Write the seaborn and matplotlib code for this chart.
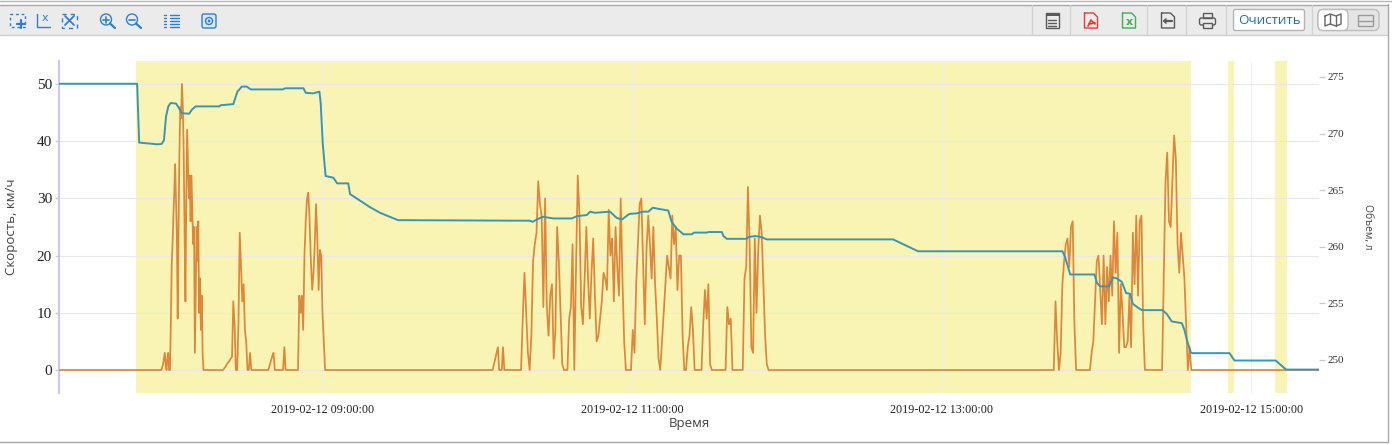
import pandas as pd
import seaborn as sns
import matplotlib
matplotlib.use('Agg')
import matplotlib.pyplot as plt
import matplotlib.dates as mdates
from matplotlib.patches import Rectangle, Circle, FancyBboxPatch

DAY = '2019-02-12 '

# --- datos: velocidad (tramos con muestreo regular, cero entre tramos) ---
speed_a = [0, 0.5, 1, 2, 3, 1, 0, 2, 3, 0, 0, 8, 18, 22, 27, 31, 36, 30, 24, 9, 25, 38, 46, 44, 50,
           46, 38, 24, 12, 30, 42, 36, 30, 34, 26, 34, 28, 22, 25, 3, 14, 25, 19, 26, 10, 16, 7, 13,
           3, 0]
speed_b = [0, 0.3, 0.6, 1, 1.3, 1.6, 2, 2.3, 12, 8, 0, 0, 8, 24, 18, 12, 15, 7, 5, 0, 0, 3, 0]
speed_c = [0, 0.8, 1.6, 2.4, 3, 0]
speed_d = [0, 4, 0]
speed_e = [0, 13, 10, 13, 7, 20, 26, 30, 31, 26, 19, 14, 17, 22, 29, 23, 14, 21, 20, 10, 5, 0]
speed_f = [0, 1, 2, 3, 4, 0, 0, 0, 4, 0]
speed_g = [0, 9, 17, 10, 3, 0, 6, 19, 22, 24, 33, 29, 27, 11, 30, 11, 6, 13, 15, 2,
           7, 25, 19, 10, 1, 0, 0, 0, 9, 11, 22, 0, 18, 34, 27, 11, 8, 16, 25, 16,
           9, 17, 23, 13, 5, 6, 9, 12, 17, 16, 14, 28, 20, 23, 12, 25, 18, 13, 30, 16,
           5, 0, 0, 0, 0, 7, 3, 15, 22,
           29, 30, 19, 8, 21, 27, 22, 16, 25, 15, 9, 2, 0, 5, 10, 15, 20, 18, 16, 27,
           22, 25, 14, 20, 20, 6, 0, 0, 4, 6, 11, 7, 0, 0, 0, 0, 0, 8, 14, 9, 15, 1,
           0, 0, 0, 0, 0, 0, 0, 0, 0, 11, 8, 9, 0, 0, 0, 0, 0, 0, 0, 16, 18, 32, 22, 4,
           3, 23, 10, 21, 27, 24, 15, 6, 1, 0]
speed_h = [0, 12, 5, 0, 3, 15, 19, 22, 23, 18, 25, 26, 8, 0, 0, 0, 0, 0, 0, 0, 0, 0,
           3, 5, 12, 19, 20, 14, 8, 20, 8, 18, 12, 20, 13, 26, 17, 24, 3, 15, 10, 4, 4,
           5, 13, 4, 24, 15, 27, 13, 26, 27, 8, 0, 0, 0, 0, 0, 0, 0, 0, 0, 0, 0,
           16, 33, 38, 26, 25, 33, 41, 37, 22, 17, 24, 20, 16, 8, 0, 4, 0]

speed_bursts = [
    ('07:57:18', 20, speed_a),
    ('08:21:12', 30, speed_b),
    ('08:38:48', 30, speed_c),
    ('08:44:30', 30, speed_d),
    ('08:50:18', 30, speed_e),
    ('10:05:49', 30, speed_f),
    ('10:16:48', 40, speed_g),
    ('13:43:26', 40, speed_h),
]

# --- datos: volumen ---
volume_times = ['07:17:36', '07:47:54', '07:48:42', '07:53:30', '07:55:30', '07:57:24', '07:58:18',
                '07:59:06', '08:00:00', '08:00:54', '08:03:00', '08:04:00', '08:05:12', '08:08:06',
                '08:09:06', '08:10:36', '08:19:48', '08:20:18', '08:25:12', '08:26:48', '08:28:30',
                '08:30:24', '08:32:00', '08:44:24', '08:45:18', '08:52:24', '08:53:18', '08:56:12',
                '08:58:36', '08:59:06', '08:59:54', '09:01:00', '09:04:00', '09:05:30', '09:09:48',
                '09:10:30', '09:18:12', '09:22:06', '09:29:06', '10:20:18', '10:21:18', '10:22:54',
                '10:25:12', '10:29:18', '10:36:30', '10:38:24', '10:42:18', '10:43:36', '10:45:30',
                '10:51:18', '10:53:54', '10:55:54', '10:58:48', '11:01:42', '11:04:12', '11:06:12',
                '11:07:54', '11:10:06', '11:13:54', '11:15:12', '11:17:12', '11:19:48', '11:23:00',
                '11:23:54', '11:28:48', '11:29:36', '11:34:42', '11:35:18', '11:36:36', '11:44:06',
                '11:45:00', '11:47:36', '11:50:12', '11:52:06', '12:41:06', '12:50:48', '13:46:48',
                '13:47:48', '13:49:48', '13:59:12', '14:00:12', '14:01:24', '14:04:54', '14:06:18',
                '14:07:54', '14:09:48', '14:11:30', '14:13:00', '14:14:06', '14:15:36', '14:17:36',
                '14:25:36', '14:27:18', '14:29:12', '14:33:06', '14:34:06', '14:35:24', '14:36:36',
                '14:37:18', '14:51:36', '14:53:30', '15:09:30', '15:13:30', '15:26:18']
volume_values = [274.4, 274.4, 269.2, 269.1, 269.05, 269.08, 269.4,
                 271.5, 272.4, 272.7, 272.65, 272.3, 271.8, 271.75,
                 272.1, 272.4, 272.4, 272.5, 272.6, 273.7, 274.15,
                 274.15, 273.9, 273.9, 274.0, 274.0, 273.6, 273.55,
                 273.7, 272.7, 269.1, 266.25, 266.1, 265.6, 265.6,
                 264.65, 263.5, 263.0, 262.35, 262.3, 262.2, 262.4,
                 262.65, 262.5, 262.5, 262.7, 262.8, 263.1, 263.0,
                 263.1, 262.55, 262.4, 262.9, 262.95, 263.1, 263.1,
                 263.45, 263.35, 263.2, 262.2, 261.6, 261.1, 261.1,
                 261.25, 261.25, 261.3, 261.3, 260.95, 260.7, 260.7,
                 260.85, 260.95, 260.85, 260.65, 260.65, 259.6, 259.6,
                 259.1, 257.55, 257.55, 256.8, 256.5, 256.5, 257.3,
                 257.2, 256.9, 255.9, 255.85, 254.95, 254.7, 254.4,
                 254.4, 254.05, 253.4, 253.25, 252.65, 251.5, 250.65,
                 250.6, 250.6, 249.95, 249.95, 249.15, 249.15]

# --- datos: zonas resaltadas y ejes ---
span_starts = ['07:47:30', '14:51:00', '15:09:18']
span_ends = ['14:36:42', '14:53:24', '15:13:54']
time_ticks = ['09:00:00', '11:00:00', '13:00:00', '15:00:00']
speed_ticks = [0, 10, 20, 30, 40, 50]
volume_ticks = [250, 255, 260, 265, 270, 275]

W, H = 1392, 445


def ts(t):
    return pd.Timestamp(DAY + t)


def speed_frame():
    rows = [(ts(volume_times[0]), 0)]
    for start, step, values in speed_bursts:
        times = pd.date_range(ts(start), periods=len(values), freq=f'{step}s')
        rows += list(zip(times, values))
    rows.append((ts(volume_times[-1]), 0))
    return pd.DataFrame(rows, columns=['t', 'speed'])


def draw_toolbar(fig):
    # barra de herramientas de la aplicacion, en pixeles
    bar = fig.add_axes([0, 0, 1, 1], zorder=5)
    bar.set_xlim(0, W)
    bar.set_ylim(H, 0)
    bar.axis('off')
    bar.patch.set_visible(False)

    bar.add_patch(Rectangle((0, 5), 1388, 30, fc='#ebebeb', ec='none'))
    bar.plot([0, 1388], [35, 35], color='#cfcfcf', lw=1)
    bar.plot([0, 1392], [1, 1], color='#b5b5b5', lw=1)
    bar.plot([0, 1388], [4.5, 4.5], color='#a8a8a8', lw=1)
    bar.plot([1388, 1388], [4, 442], color='#a8a8a8', lw=1)
    bar.plot([0, 1388], [442, 442], color='#a8a8a8', lw=1)
    for x in [1032, 1070, 1147, 1186, 1226, 1312]:
        bar.plot([x, x], [5, 35], color='#d2d2d2', lw=1)

    blue = '#2f7fd0'
    # zoom caja, ejes, ajustar
    bar.add_patch(Rectangle((10, 14), 15, 13, fc='none', ec=blue, lw=1, ls=(0, (2, 2))))
    bar.plot([17, 25], [24, 24], color=blue, lw=1.6)
    bar.plot([21, 21], [20, 28], color=blue, lw=1.6)
    bar.plot([37, 37, 50], [14, 27, 27], color=blue, lw=1)
    bar.text(45, 18, 'x', color=blue, fontsize=8, ha='center', va='center', family='DejaVu Sans')
    bar.add_patch(Rectangle((62, 14), 15, 14, fc='none', ec=blue, lw=1, ls=(0, (3, 3))))
    bar.plot([65, 74], [16, 25], color=blue, lw=1.3)
    bar.plot([65, 74], [25, 16], color=blue, lw=1.3)
    # lupas
    for cx, plus in [(106, True), (132, False)]:
        bar.add_patch(Circle((cx, 19.5), 5.5, fc='none', ec=blue, lw=1))
        bar.plot([cx + 4, cx + 9], [23.5, 28], color=blue, lw=1.6)
        bar.plot([cx - 3, cx + 3], [19.5, 19.5], color=blue, lw=1.2)
        if plus:
            bar.plot([cx, cx], [16.5, 22.5], color=blue, lw=1.2)
    # lista y camara
    for y in [15, 18, 21, 24, 27]:
        bar.plot([164, 166], [y, y], color=blue, lw=1)
        bar.plot([170, 179], [y, y], color=blue, lw=1)
    bar.add_patch(FancyBboxPatch((202, 14), 14, 14, boxstyle='round,pad=0,rounding_size=2',
                                 fc='#dbe7f5', ec=blue, lw=1))
    bar.add_patch(Circle((209, 21), 3.5, fc='none', ec=blue, lw=1))
    bar.add_patch(Circle((209, 21), 1.4, fc=blue, ec='none'))

    # iconos de documento
    gray = '#5a5a5a'
    bar.add_patch(Rectangle((1045.5, 13), 13, 15, fc='none', ec=gray, lw=1))
    bar.add_patch(Rectangle((1045.5, 13), 13, 3, fc=gray, ec='none'))
    for y in [20, 23, 26]:
        bar.plot([1048, 1056], [y, y], color=gray, lw=1)
    for x0, col in [(1084.5, '#ee3b32'), (1122.5, '#45ad4c'), (1161.5, gray)]:
        bar.plot([x0, x0 + 9, x0 + 13, x0 + 13, x0, x0], [13, 13, 17, 28, 28, 13], color=col, lw=1)
    bar.plot([1088, 1091, 1095], [26, 20, 24], color='#ee3b32', lw=1.2)
    bar.plot([1089, 1095], [24, 23], color='#ee3b32', lw=1.2)
    bar.text(1129, 22, 'x', color='#45ad4c', fontsize=8, fontweight='bold', ha='center', va='center',
             family='DejaVu Sans')
    bar.plot([1164, 1172], [21, 21], color=gray, lw=1.6)
    bar.plot([1166, 1164, 1166], [19, 21, 23], color=gray, lw=1.2)
    # impresora
    bar.add_patch(FancyBboxPatch((1199.5, 18), 16, 7, boxstyle='round,pad=0,rounding_size=2',
                                 fc='none', ec=gray, lw=1))
    bar.add_patch(Rectangle((1203, 13), 9, 5, fc='none', ec=gray, lw=1))
    bar.add_patch(Rectangle((1203, 23), 9, 5, fc='#ebebeb', ec=gray, lw=1))

    # boton y conmutador
    bar.add_patch(FancyBboxPatch((1233.5, 9.5), 71, 21, boxstyle='round,pad=0,rounding_size=2',
                                 fc='white', ec='#b4b4b4', lw=1))
    bar.text(1269, 20, 'Очистить', color='#1f6fa5', fontsize=9.6, ha='center', va='center',
             family='Open Sans')
    bar.add_patch(FancyBboxPatch((1318, 9.5), 61, 21, boxstyle='round,pad=0,rounding_size=5',
                                 fc='#e4e4e4', ec='#bdbdbd', lw=1))
    bar.add_patch(FancyBboxPatch((1318, 9.5), 30, 21, boxstyle='round,pad=0,rounding_size=5',
                                 fc='white', ec='#bdbdbd', lw=1))
    bar.plot([1325, 1330, 1336, 1341, 1341, 1336, 1330, 1325, 1325],
             [16, 14, 16, 14, 24, 26, 24, 26, 16], color='#666666', lw=1)
    bar.plot([1330, 1330], [14, 24], color='#666666', lw=1)
    bar.plot([1336, 1336], [16, 26], color='#666666', lw=1)
    bar.add_patch(Rectangle((1357.5, 15), 15, 11, fc='none', ec='#9a9a9a', lw=1))
    bar.plot([1357.5, 1372.5], [20.5, 20.5], color='#9a9a9a', lw=1)


def main():
    sns.set_theme(style='white')
    plt.rcParams['font.family'] = ['Liberation Serif', 'DejaVu Sans']

    fig = plt.figure(figsize=(W / 100, H / 100), dpi=100)
    ax = fig.add_axes([59 / W, (H - 393) / H, 1260 / W, 332 / H])

    for a, b in zip(span_starts, span_ends):
        ax.axvspan(ts(a), ts(b), color='#f9f3b4', lw=0, zorder=0)

    sns.lineplot(data=speed_frame(), x='t', y='speed', ax=ax, estimator=None, sort=False,
                 color='#de873a', lw=1.25, zorder=3)

    ax.set_xlim(ts(volume_times[0]), ts(volume_times[-1]))
    ax.set_ylim(-4.02, 54.02)
    ax.set_yticks(speed_ticks)
    ax.set_xticks([ts(t) for t in time_ticks])
    ax.xaxis.set_major_formatter(mdates.DateFormatter('%Y-%m-%d %H:%M:%S'))
    ax.set_axisbelow(True)
    ax.grid(True, axis='y', color='#e8e8e8', lw=0.8)
    ax.grid(True, axis='x', color='#efefef', lw=0.8)
    ax.tick_params(axis='y', length=3, width=1, color='#cccccc', labelsize=11, labelcolor='#222222', pad=2)
    ax.tick_params(axis='x', length=0, labelsize=8.7, labelcolor='#222222', pad=8)
    for s in ['top', 'right', 'bottom']:
        ax.spines[s].set_visible(False)
    ax.spines['left'].set_color('#c8c8fb')
    ax.spines['left'].set_linewidth(1.5)
    ax.set_xlabel('Время', family='Open Sans', fontsize=9.5, color='#444444', va='center')
    ax.set_ylabel('Скорость, км/ч', family='Open Sans', fontsize=9.5, color='#444444', va='center')
    ax.yaxis.set_label_coords((12 - 59) / 1260, 0.5)
    ax.xaxis.set_label_coords(0.5, (393 - 423) / 332)

    ax2 = ax.twinx()
    ax2.set_zorder(ax.get_zorder() + 1)
    ax2.patch.set_visible(False)
    vol = pd.DataFrame({'t': [ts(t) for t in volume_times], 'vol': volume_values})
    sns.lineplot(data=vol, x='t', y='vol', ax=ax2, estimator=None, sort=False, color='#3a95b5', lw=1.4)
    ax2.set_xlim(ts(volume_times[0]), ts(volume_times[-1]))
    ax2.set_ylim(247.08, 276.41)
    ax2.set_yticks(volume_ticks)
    ax2.grid(False)
    ax2.tick_params(axis='y', length=4, width=1, color='#cccccc', labelsize=8, labelcolor='#333333', pad=2)
    for s in ax2.spines.values():
        s.set_visible(False)
    ax2.set_ylabel('Объем, л', family='Open Sans', fontsize=7.4, color='#444444', rotation=270, va='center')
    ax2.yaxis.set_label_coords((1367 - 59) / 1260, 0.5)

    draw_toolbar(fig)
    fig.savefig('out.png', dpi=100)


if __name__ == '__main__':
    main()
